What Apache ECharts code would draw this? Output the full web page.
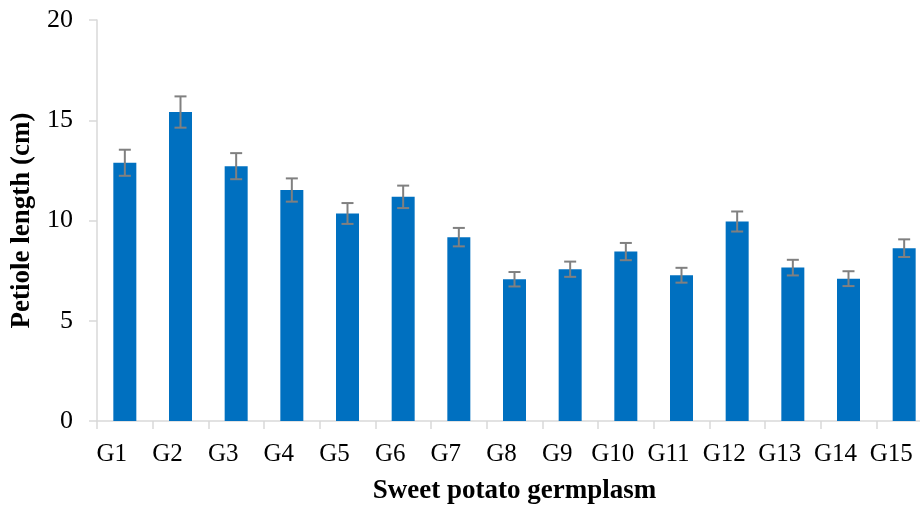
<!DOCTYPE html>
<html>
<head>
<meta charset="utf-8">
<script src="https://cdn.jsdelivr.net/npm/echarts@6/dist/echarts.min.js"></script>
<style>html,body{margin:0;padding:0;background:#fff}#c{width:920px;height:505px}</style>
</head>
<body>
<div id="c"></div>
<script>
const categories = ['G1','G2','G3','G4','G5','G6','G7','G8','G9','G10','G11','G12','G13','G14','G15'];
const values = [12.88, 15.41, 12.71, 11.52, 10.35, 11.18, 9.17, 7.07, 7.57, 8.45, 7.27, 9.95, 7.65, 7.10, 8.62];
const errors = [0.65, 0.78, 0.65, 0.58, 0.52, 0.56, 0.46, 0.36, 0.38, 0.43, 0.37, 0.50, 0.39, 0.37, 0.44];
const yTicks = [0, 5, 10, 15, 20];

const font = '"Liberation Serif", "DejaVu Serif", serif';
const chart = echarts.init(document.getElementById('c'));
const errData = categories.map((c, i) => [i, values[i] - errors[i], values[i] + errors[i]]);

chart.setOption({
  animation: false,
  grid: { left: 97, right: -12, top: 20, bottom: 84, containLabel: false, outerBoundsMode: 'none' },
  xAxis: {
    type: 'category',
    data: categories,
    name: 'Sweet potato germplasm',
    nameLocation: 'middle',
    nameGap: 57,
    nameTextStyle: { fontFamily: font, fontWeight: 'bold', fontSize: 27, color: '#000' },
    axisLine: { lineStyle: { color: '#d9d9d9', width: 1.5 } },
    axisTick: { show: true, alignWithLabel: false, length: 8, lineStyle: { color: '#d9d9d9', width: 1.5 } },
    axisLabel: { fontFamily: font, fontSize: 25, color: '#000', margin: 21, interval: 0, padding: [0, 26, 0, 0] }
  },
  yAxis: {
    type: 'value',
    min: yTicks[0],
    max: yTicks[yTicks.length - 1],
    interval: yTicks[1] - yTicks[0],
    name: 'Petiole length (cm)',
    nameLocation: 'middle',
    nameRotate: 90,
    nameGap: 61,
    nameTextStyle: { fontFamily: font, fontWeight: 'bold', fontSize: 27, color: '#000' },
    axisLine: { show: true, lineStyle: { color: '#d9d9d9', width: 1.5 } },
    axisTick: { show: true, length: 8, lineStyle: { color: '#d9d9d9', width: 1.5 } },
    splitLine: { show: false },
    axisLabel: { fontFamily: font, fontSize: 26, color: '#000', margin: 24 }
  },
  series: [
    {
      type: 'bar',
      data: values,
      barWidth: 23,
      itemStyle: { color: '#0070C0' }
    },
    {
      type: 'custom',
      data: errData,
      z: 10,
      renderItem: function (params, api) {
        const x = api.value(0);
        const lo = api.coord([x, api.value(1)]);
        const hi = api.coord([x, api.value(2)]);
        const hw = 6;
        const style = { stroke: '#808080', lineWidth: 2 };
        return {
          type: 'group',
          children: [
            { type: 'line', shape: { x1: lo[0], y1: lo[1], x2: hi[0], y2: hi[1] }, style: style },
            { type: 'line', shape: { x1: lo[0] - hw, y1: lo[1], x2: lo[0] + hw, y2: lo[1] }, style: style },
            { type: 'line', shape: { x1: hi[0] - hw, y1: hi[1], x2: hi[0] + hw, y2: hi[1] }, style: style }
          ]
        };
      }
    }
  ]
});
</script>
</body>
</html>
